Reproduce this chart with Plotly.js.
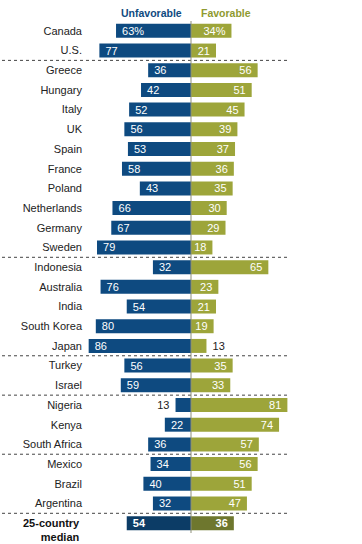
<!DOCTYPE html>
<html>
<head>
<meta charset="utf-8">
<script src="https://cdn.plot.ly/plotly-3.0.1.min.js"></script>
<style>html,body{margin:0;padding:0;background:#fff;}#chart{width:362px;height:544px;}</style>
</head>
<body>
<div id="chart"></div>
<script>
const countries = ["Canada","U.S.","Greece","Hungary","Italy","UK","Spain","France","Poland","Netherlands","Germany","Sweden","Indonesia","Australia","India","South Korea","Japan","Turkey","Israel","Nigeria","Kenya","South Africa","Mexico","Brazil","Argentina","25-country median"];
const unfavorable = [63,77,36,42,52,56,53,58,43,66,67,79,32,76,54,80,86,56,59,13,22,36,34,40,32,54];
const favorable   = [34,21,56,51,45,39,37,36,35,30,29,18,65,23,21,19,13,35,33,81,74,57,56,51,47,36];
const separatorsAfter = ["U.S.","Sweden","Japan","Israel","South Africa","Argentina"];
const medianLabel = "25-country median";

const NB = "\u00a0";
const NAVY = "#0e4a80", OLIVE = "#9da53a", NAVY_D = "#0c3c66", OLIVE_D = "#6e772e";
const isMedian = countries.map(c => c === medianLabel);
const inside = v => v >= 15;

function fmt(v, i) { return i === 0 ? v + "%" : String(v); }
function wrapBold(s, i) { return isMedian[i] ? "<b>" + s + "</b>" : s; }

const unfText = unfavorable.map((v, i) => wrapBold(inside(v) ? NB + fmt(v, i) : fmt(v, i) + NB, i));
const favText = favorable.map((v, i) => wrapBold(inside(v) ? fmt(v, i) + NB : NB + fmt(v, i), i));

const traceUnf = {
  type: "bar", orientation: "h", y: countries, x: unfavorable.map(v => -v),
  text: unfText, texttemplate: "%{text}",
  textposition: unfavorable.map(v => inside(v) ? "inside" : "outside"),
  insidetextanchor: "end", constraintext: "none", cliponaxis: false,
  insidetextfont: {color: "#ffffff", size: 11, family: "Liberation Sans, Arial, sans-serif"},
  outsidetextfont: {color: "#222222", size: 11, family: "Liberation Sans, Arial, sans-serif"},
  marker: {color: isMedian.map(m => m ? NAVY_D : NAVY), line: {width: 0}},
  hoverinfo: "none", showlegend: false
};
const traceFav = {
  type: "bar", orientation: "h", y: countries, x: favorable,
  text: favText, texttemplate: "%{text}",
  textposition: favorable.map(v => inside(v) ? "inside" : "outside"),
  insidetextanchor: "end", constraintext: "none", cliponaxis: false,
  insidetextfont: {color: "#ffffff", size: 11, family: "Liberation Sans, Arial, sans-serif"},
  outsidetextfont: {color: "#222222", size: 11, family: "Liberation Sans, Arial, sans-serif"},
  marker: {color: isMedian.map(m => m ? OLIVE_D : OLIVE), line: {width: 0}},
  hoverinfo: "none", showlegend: false
};

const plotL = 86, plotR = 300, plotW = plotR - plotL;
const shapes = separatorsAfter.map(c => {
  const idx = countries.indexOf(c) + 0.5;
  return {type: "line", xref: "paper", yref: "y", x0: (2 - plotL) / plotW, x1: (288 - plotL) / plotW,
          y0: idx, y1: idx, line: {color: "#444444", width: 1, dash: "dot"}, layer: "above"};
});
shapes.push({type: "line", xref: "x", yref: "paper", x0: 0, x1: 0, y0: 0, y1: 1,
             line: {color: "#8d8f7a", width: 1}, layer: "above"});

const layout = {
  width: 362, height: 544,
  margin: {l: plotL, r: 362 - plotR, t: 21, b: 11},
  paper_bgcolor: "#ffffff", plot_bgcolor: "#ffffff",
  barmode: "relative", bargap: 0.29,
  font: {family: "Liberation Sans, Arial, sans-serif", size: 11, color: "#222222"},
  xaxis: {range: [-88.24, 91.6], showgrid: false, zeroline: false, showticklabels: false, ticks: "", fixedrange: true},
  yaxis: {type: "category", range: [25.5, -0.5], showgrid: false, zeroline: false, ticks: "",
          tickvals: countries, ticktext: countries.map(c => c === medianLabel ? "" : c),
          ticklabelstandoff: 3,
          tickfont: {size: 11, color: "#222222"}, automargin: false, fixedrange: true},
  shapes: shapes,
  annotations: [
    {xref: "x", yref: "paper", x: 0, y: 1, xanchor: "right", yanchor: "bottom", xshift: -7, yshift: 0,
     text: "<b>Unfavorable</b>", showarrow: false, font: {size: 10.5, color: NAVY}},
    {xref: "x", yref: "paper", x: 0, y: 1, xanchor: "left", yanchor: "bottom", xshift: 8, yshift: 0,
     text: "<b>Favorable</b>", showarrow: false, font: {size: 10.5, color: "#8f9a30"}},
    {xref: "paper", yref: "y", x: 0, y: medianLabel, xanchor: "right", yanchor: "top", xshift: -4, yshift: 8,
     text: "<b>25-country<br>median</b>", align: "right", showarrow: false, font: {size: 11, color: "#111111"}}
  ]
};

Plotly.newPlot("chart", [traceUnf, traceFav], layout, {staticPlot: true, displayModeBar: false});
</script>
</body>
</html>
